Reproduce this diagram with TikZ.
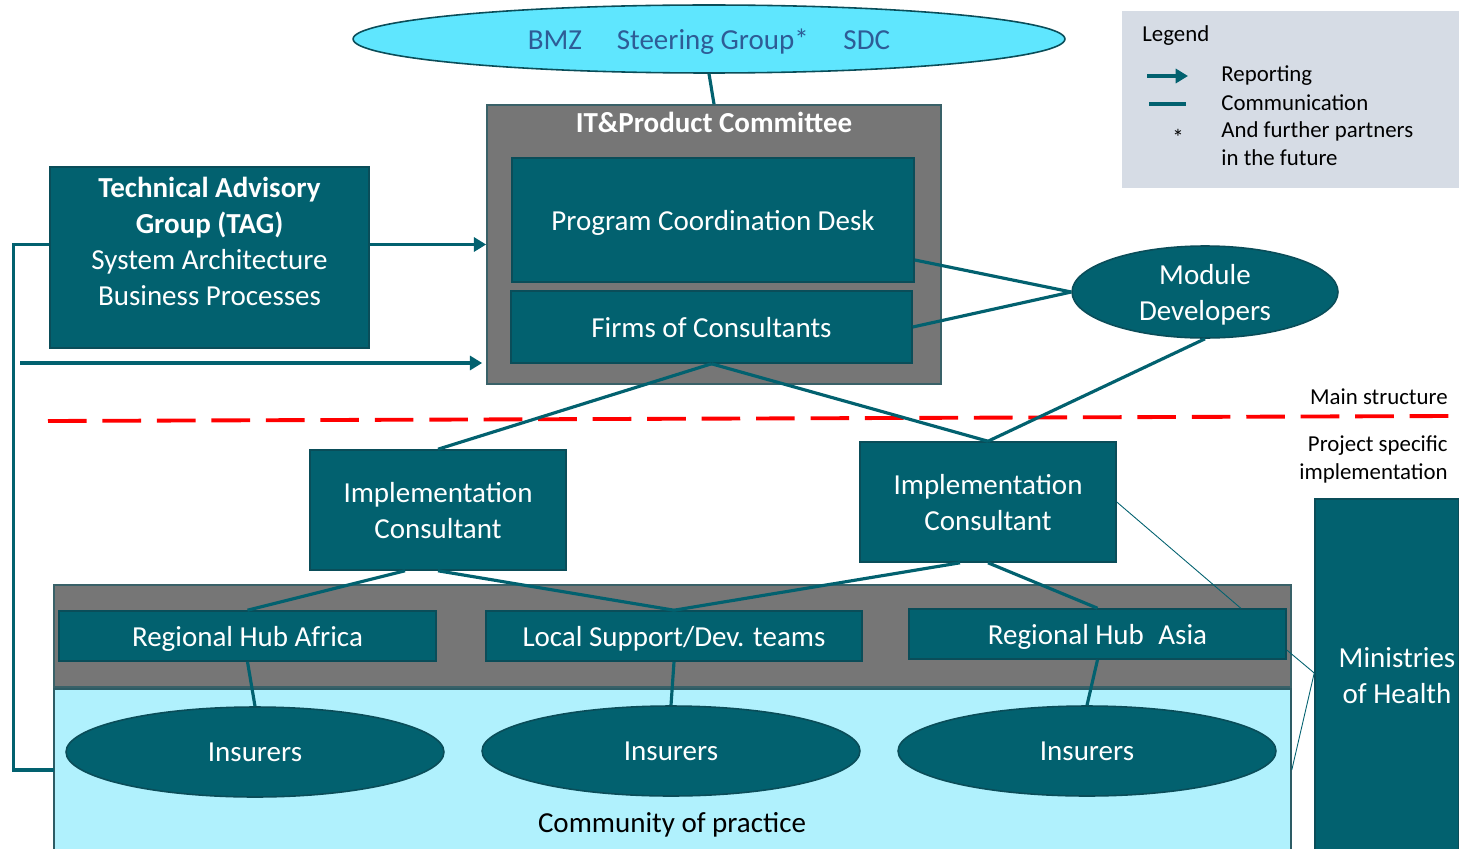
\documentclass[tikz,border=0pt]{standalone}
\usepackage{fontspec}
\setmainfont{Carlito}
\usepackage{tikz}
\usetikzlibrary{arrows.meta,positioning,shapes.geometric}
\definecolor{tealbox}{HTML}{02616F}
\definecolor{tealedge}{HTML}{0A4D59}
\definecolor{greybox}{HTML}{767676}
\definecolor{skyfill}{HTML}{5FE6FE}
\definecolor{paleblue}{HTML}{B0F1FD}
\definecolor{legendbg}{HTML}{D6DCE5}
\definecolor{navytext}{HTML}{2E5C96}
\definecolor{dashred}{HTML}{FF0000}
\newcommand{\diagfont}{\fontsize{16.5}{20.5}\selectfont}
\newcommand{\notefont}{\fontsize{13}{15.8}\selectfont}

\begin{document}
\begin{tikzpicture}[x=0.02cm, y=-0.02cm,
    box/.style={rectangle, draw=tealedge, line width=0.9pt, fill=tealbox, text=white, font=\diagfont, align=center, inner sep=0pt, text depth=0pt},
    oval/.style={ellipse, draw=tealedge, line width=0.9pt, fill=tealbox, text=white, font=\diagfont, align=center, inner sep=0pt, text depth=0pt},
    panel/.style={rectangle, draw=tealedge!60!gray, line width=1pt, fill=greybox, inner sep=0pt},
    comm/.style={draw=tealbox, line width=1.8pt},
    report/.style={comm, -{Triangle[length=7pt,width=8pt]}},
    fine/.style={draw=tealbox, line width=0.5pt},
    note/.style={font=\notefont, text=black, inner sep=0pt}
]
    \clip (0,0) rectangle (1459,848);

    % Steering group
    \node[ellipse, draw=tealedge, line width=0.9pt, fill=skyfill, text=navytext, font=\diagfont,
          minimum width=14.24cm, minimum height=1.36cm, inner sep=0pt, text depth=0pt] (steer) at (709,39)
          {BMZ\hspace{1.2em}Steering Group*\hspace{1.2em}SDC};

    % IT & Product Committee
    \node[panel, minimum width=9.08cm, minimum height=5.58cm] (itpc) at (714,244.5) {};
    \node[font=\diagfont\bfseries, text=white, inner sep=0pt] (itpctitle) at (714,122) {IT\&Product Committee};
    \node[box, minimum width=8.04cm, minimum height=2.48cm] (pcd) at (713,220) {Program Coordination Desk};
    \node[box, minimum width=8.02cm, minimum height=1.44cm] (firms) at (711.5,327) {Firms of Consultants};

    % Technical advisory group
    \node[box, minimum width=6.38cm, minimum height=3.62cm] (tag) at (209.5,257.5) {};
    \node[text=white, font=\diagfont, align=center, inner sep=0pt] (tagtext) at (209.5,241)
          {\textbf{Technical Advisory}\\\textbf{Group (TAG)}\\System Architecture\\Business Processes};

    % Module developers
    \node[oval, minimum width=5.32cm, minimum height=1.84cm] (md) at (1205,292) {Module\\Developers};

    % Main structure / project specific split
    \coordinate (cutL) at (48,421);
    \coordinate (cutR) at (1450,416);
    \draw[dashred, line width=2.2pt, dash pattern=on 22pt off 9pt] (cutL) -- (cutR);
    \node[note, anchor=east] (mainlbl) at (1448,397) {Main structure};
    \node[note, anchor=east, align=right] (projlbl) at (1448,459.5) {Project specific\\implementation};

    % Implementation consultants
    \node[box, minimum width=5.12cm, minimum height=2.4cm] (ic1) at (438,510) {Implementation\\Consultant};
    \node[box, minimum width=5.12cm, minimum height=2.4cm] (ic2) at (988,502) {Implementation\\Consultant};

    % Community of practice and hubs
    \node[rectangle, draw=tealedge!70!gray, line width=1pt, fill=paleblue, minimum width=24.74cm, minimum height=3.6cm, inner sep=0pt] (cop) at (672.5,779) {};
    \node[font=\diagfont, text=black, inner sep=0pt] (coptext) at (672,825) {Community of practice};
    \node[panel, minimum width=24.74cm, minimum height=2.04cm] (band) at (672.5,636) {};
    \node[box, minimum width=7.54cm, minimum height=1.0cm] (rha) at (247.5,636) {Regional Hub Africa};
    \node[box, minimum width=7.52cm, minimum height=1.0cm] (ls) at (674,636) {Local Support/Dev. teams};
    \node[box, minimum width=7.54cm, minimum height=1.0cm] (rhas) at (1097.5,634) {Regional Hub\hspace{0.5em}Asia};

    % Insurers
    \node[oval, minimum width=7.56cm, minimum height=1.8cm] (ins1) at (255,752) {Insurers};
    \node[oval, minimum width=7.56cm, minimum height=1.8cm] (ins2) at (671,751) {Insurers};
    \node[oval, minimum width=7.56cm, minimum height=1.8cm] (ins3) at (1087,751) {Insurers};

    % Ministries
    \node[box, minimum width=2.88cm, minimum height=7.4cm] (moh) at (1387,684) {};
    \node[text=white, font=\diagfont, align=center, inner sep=0pt] (mohtext) at (1397,676) {Ministries\\of Health};

    % Reporting lines
    \coordinate (tagout) at ([yshift=0.26cm]tag.east);
    \coordinate (tagback) at ([yshift=0.26cm]tag.west);
    \coordinate (copin) at (54,770);
    \coordinate (loopin) at (20,363);
    \draw[report] (tagout) -- (tagout -| itpc.west);
    \draw[comm] (tagback) -- ++(-36,0) |- (copin);
    \draw[report] (loopin) -- ([xshift=-0.08cm]loopin -| itpc.west);

    % Communication lines
    \draw[comm] (steer.south) -- (itpc.north);
    \draw[comm] ([yshift=-0.8cm]pcd.east) -- (md.west);
    \draw[comm] (firms.east) -- (md.west);
    \draw[comm] (md.south) -- (ic2.north);
    \draw[comm] (firms.south) -- (ic1.north);
    \draw[comm] (firms.south) -- (ic2.north);
    \draw[comm] ([xshift=-0.66cm]ic1.south) -- (rha.north);
    \draw[comm] (ic1.south) -- (ls.north);
    \draw[comm] ([xshift=-0.56cm]ic2.south) -- (ls.north);
    \draw[comm] (ic2.south) -- (rhas.north);
    \draw[comm] (rha.south) -- (ins1.north);
    \draw[comm] (ls.south) -- (ins2.north);
    \draw[comm] (rhas.south) -- (ins3.north);

    % Thin links to ministries
    \draw[fine] (ic2.east) -- ([xshift=-0.92cm]rhas.north east);
    \draw[fine] ([yshift=-0.32cm]rhas.east) -- ([yshift=0.22cm]moh.west) -- ([yshift=0.18cm]cop.east);

    % Legend
    \node[rectangle, fill=legendbg, minimum width=6.74cm, minimum height=3.54cm, inner sep=0pt] (legend) at (1290.5,99.5) {};
    \node[note, anchor=west] (legtitle) at (1142,36) {Legend};
    \coordinate (keyrep) at (1147,76);
    \coordinate (keycom) at (1149,104);
    \draw[report, line width=2.4pt] (keyrep) -- ++(41,0);
    \draw[comm, line width=2.4pt] (keycom) -- ++(37,0);
    \node[note] (keystar) at (1178,137) {*};
    \node[note, anchor=west] (legrep) at (1221,76) {Reporting};
    \node[note, anchor=west] (legcom) at (1221,103) {Communication};
    \node[note, anchor=west, align=left] (legfut) at (1221,144) {And further partners\\in the future};
\end{tikzpicture}
\end{document}
